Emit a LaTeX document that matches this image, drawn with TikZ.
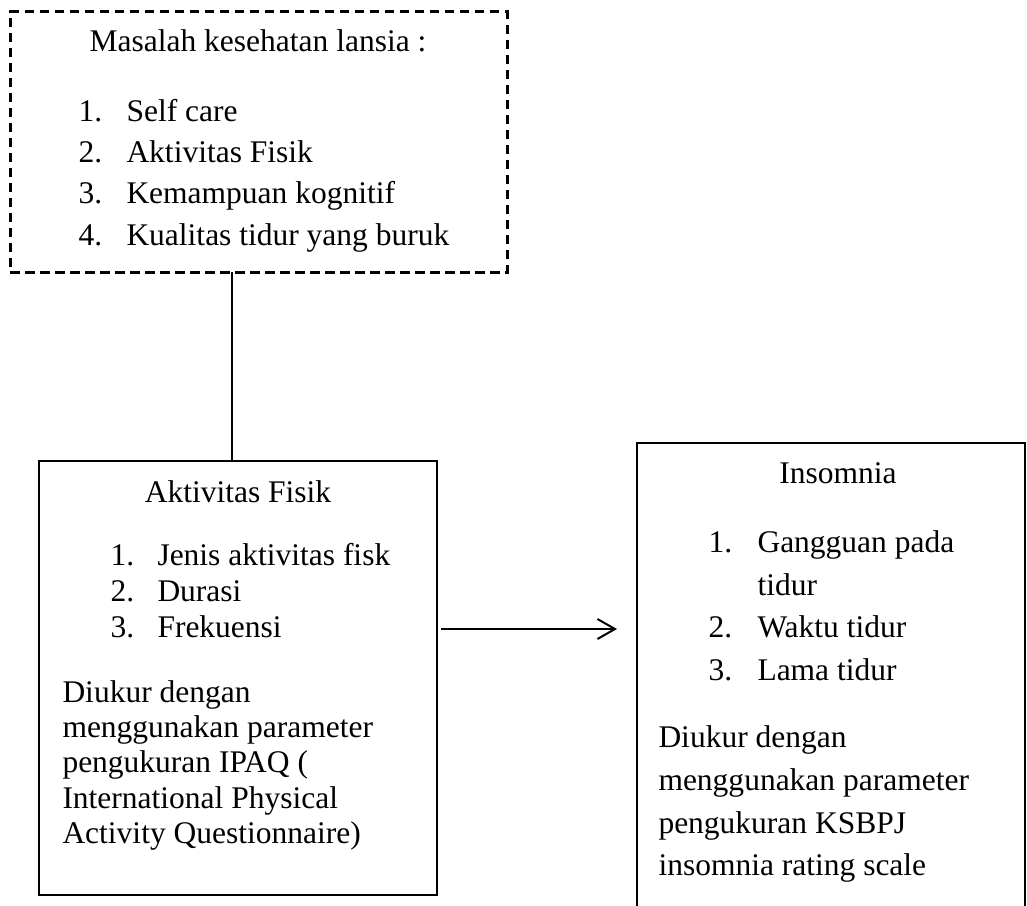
\documentclass[tikz,border=0pt]{standalone}
\usepackage{fontspec}
\setmainfont{Liberation Serif}
\usetikzlibrary{arrows.meta}

\tikzset{
    kotak/.style={draw, line width=0.8pt, inner sep=0pt, outer sep=0pt, anchor=north west},
    kotakputus/.style={kotak, line width=1.2pt, dash pattern=on 3.8pt off 2.2pt},
    baris/.style={inner sep=0pt, anchor=base west, font=\fontsize{12.6}{14}\selectfont},
    judul/.style={baris, anchor=base}
}

\begin{document}
\begin{tikzpicture}[x=0.4pt, y=-0.4pt]
        \clip (0,0) rectangle (1027,906);
        \useasboundingbox (0,0) rectangle (1027,906);
        % kotak
        \node[kotakputus, minimum width=198.8pt, minimum height=104pt] (masalah) at (10,12) {};
        \node[kotak, minimum width=159.2pt, minimum height=173.6pt] (fisik) at (39,461) {};
        \node[kotak, minimum width=155.2pt, minimum height=200pt] (insomnia) at (637,443) {};
        % masalah kesehatan
        \node[judul] (m0) at (258,52) {Masalah kesehatan lansia :};
        \node[baris] (mn1) at (78,122) {1.};
        \node[baris] (m1) at (126,122) {Self care};
        \node[baris] (mn2) at (78,163) {2.};
        \node[baris] (m2) at (126,163) {Aktivitas Fisik};
        \node[baris] (mn3) at (78,204) {3.};
        \node[baris] (m3) at (126,204) {Kemampuan kognitif};
        \node[baris] (mn4) at (78,246) {4.};
        \node[baris] (m4) at (126,246) {Kualitas tidur yang buruk};
        % aktivitas fisik
        \node[judul] (f0) at (238,502) {Aktivitas Fisik};
        \node[baris] (fn1) at (110,565) {1.};
        \node[baris] (f1) at (157,565) {Jenis aktivitas fisk};
        \node[baris] (fn2) at (110,601) {2.};
        \node[baris] (f2) at (157,601) {Durasi};
        \node[baris] (fn3) at (110,637) {3.};
        \node[baris] (f3) at (157,637) {Frekuensi};
        \node[baris] (fp1) at (62,702) {Diukur dengan};
        \node[baris] (fp2) at (62,737) {menggunakan parameter};
        \node[baris] (fp3) at (62,772) {pengukuran IPAQ (};
        \node[baris] (fp4) at (62,808) {International Physical};
        \node[baris] (fp5) at (62,843) {Activity Questionnaire)};
        % insomnia
        \node[judul] (i0) at (838,483) {Insomnia};
        \node[baris] (in1) at (708,552) {1.};
        \node[baris] (i1) at (757,552) {Gangguan pada};
        \node[baris] (i1b) at (757,595) {tidur};
        \node[baris] (in2) at (708,637) {2.};
        \node[baris] (i2) at (757,637) {Waktu tidur};
        \node[baris] (in3) at (708,680) {3.};
        \node[baris] (i3) at (757,680) {Lama tidur};
        \node[baris] (ip1) at (658,747) {Diukur dengan};
        \node[baris] (ip2) at (658,790) {menggunakan parameter};
        \node[baris] (ip3) at (658,833) {pengukuran KSBPJ};
        \node[baris] (ip4) at (658,875) {insomnia rating scale};
        % penghubung
        \draw[line width=0.8pt] ([xshift=-2.4pt]fisik.north) -- ([xshift=-2.4pt]fisik.north |- masalah.south);
        \coordinate (panah1) at (441,629);
        \coordinate (panah2) at (617,629);
        \draw[-{Straight Barb[length=7pt, width=8pt, line width=0.8pt]}, line width=0.8pt] (panah1) -- (panah2);
    \end{tikzpicture}
\end{document}
